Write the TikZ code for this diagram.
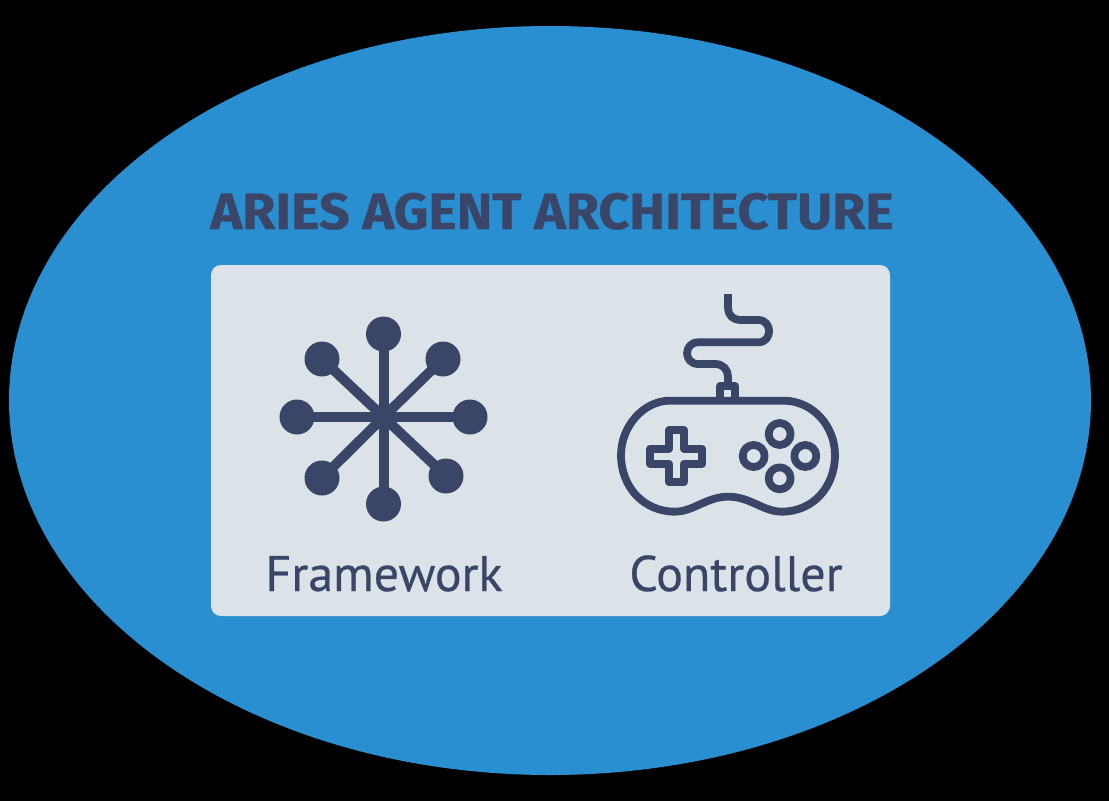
\documentclass[tikz,border=0pt]{standalone}
\usepackage{fontspec}
\setmainfont{PT Sans}
\newfontfamily\headingfont[FakeStretch=1.055,FakeBold=0.6]{Fira Sans Bold}
\newfontfamily\captionfont[FakeBold=0.5]{PT Sans}
\definecolor{skyblue}{HTML}{2A8FD0}
\definecolor{panelgrey}{HTML}{DCE3E8}
\definecolor{inkblue}{HTML}{3A4568}
\tikzset{
  hub/.style={circle,fill=inkblue,minimum size=35pt,inner sep=0pt},
  spoke/.style={draw=inkblue,line width=10pt},
  iconline/.style={draw=inkblue,line width=7.8pt,line join=round},
  heading/.style={text=inkblue,font=\fontsize{51}{51}\headingfont,inner sep=0pt,anchor=base},
  caption/.style={text=inkblue,font=\fontsize{50}{50}\captionfont,inner sep=0pt,anchor=base}
}
\begin{document}
\begin{tikzpicture}[x=1pt,y=-1pt]
	\useasboundingbox (0,0) rectangle (1109,801);
	\fill[black] (0,0) rectangle (1109,801);
	\fill[skyblue] (550,400.5) ellipse [x radius=541,y radius=374.5];
	\fill[panelgrey,rounded corners=10pt] (211,265) rectangle (890,616);
	%
	\node[heading] (title) at (552,229) {ARIES AGENT ARCHITECTURE};
	\node[caption] (framework) at (384,591) {Framework};
	\node[caption] (controller) at (736,591) {Controller};
	%
	\coordinate (centre) at (383.5,417);
	\node[hub] (n) at (383.5,334) {};
	\node[hub] (ne) at (443,359) {};
	\node[hub] (e) at (470,417) {};
	\node[hub] (se) at (446,476) {};
	\node[hub] (s) at (383.5,504) {};
	\node[hub] (sw) at (322,478) {};
	\node[hub] (w) at (297,417) {};
	\node[hub] (nw) at (322,359) {};
	\foreach \hubname in {n,ne,e,se,s,sw,w,nw}
		\draw[spoke] (centre) -- (\hubname.center);
	%
	\begin{scope}[shift={(600,280)},x=0.33333pt,y=-0.33333pt]
		% body
		\draw[iconline] (210,362) -- (550,362)
			.. controls (640,362) and (705,440) .. (705,525)
			.. controls (705,620) and (640,695) .. (545,695)
			.. controls (490,695) and (450,650) .. (385,650)
			.. controls (320,650) and (280,695) .. (225,695)
			.. controls (130,695) and (63,620) .. (63,525)
			.. controls (63,440) and (130,362) .. (210,362) -- cycle;
		% cable
		\draw[iconline] (361,362) -- (361,318) -- (406,318) -- (406,362);
		\draw[iconline] (384,42) -- (384,85)
			.. controls (384,105) and (400,120) .. (420,120) -- (475,120)
			.. controls (518,120) and (518,187) .. (475,187) -- (295,187)
			.. controls (250,187) and (250,252) .. (295,252) -- (345,252)
			.. controls (370,252) and (384,270) .. (384,290) -- (384,318);
		% pad
		\draw[iconline] (207,450) -- (252,450) -- (252,506) -- (307,506) -- (307,551)
			-- (252,551) -- (252,607) -- (207,607) -- (207,551) -- (150,551)
			-- (150,506) -- (207,506) -- cycle;
		% buttons
		\foreach \bx/\by in {539/462,539/595,461/528,616/528}
			\draw[iconline] (\bx,\by) circle (33);
	\end{scope}
\end{tikzpicture}
\end{document}
